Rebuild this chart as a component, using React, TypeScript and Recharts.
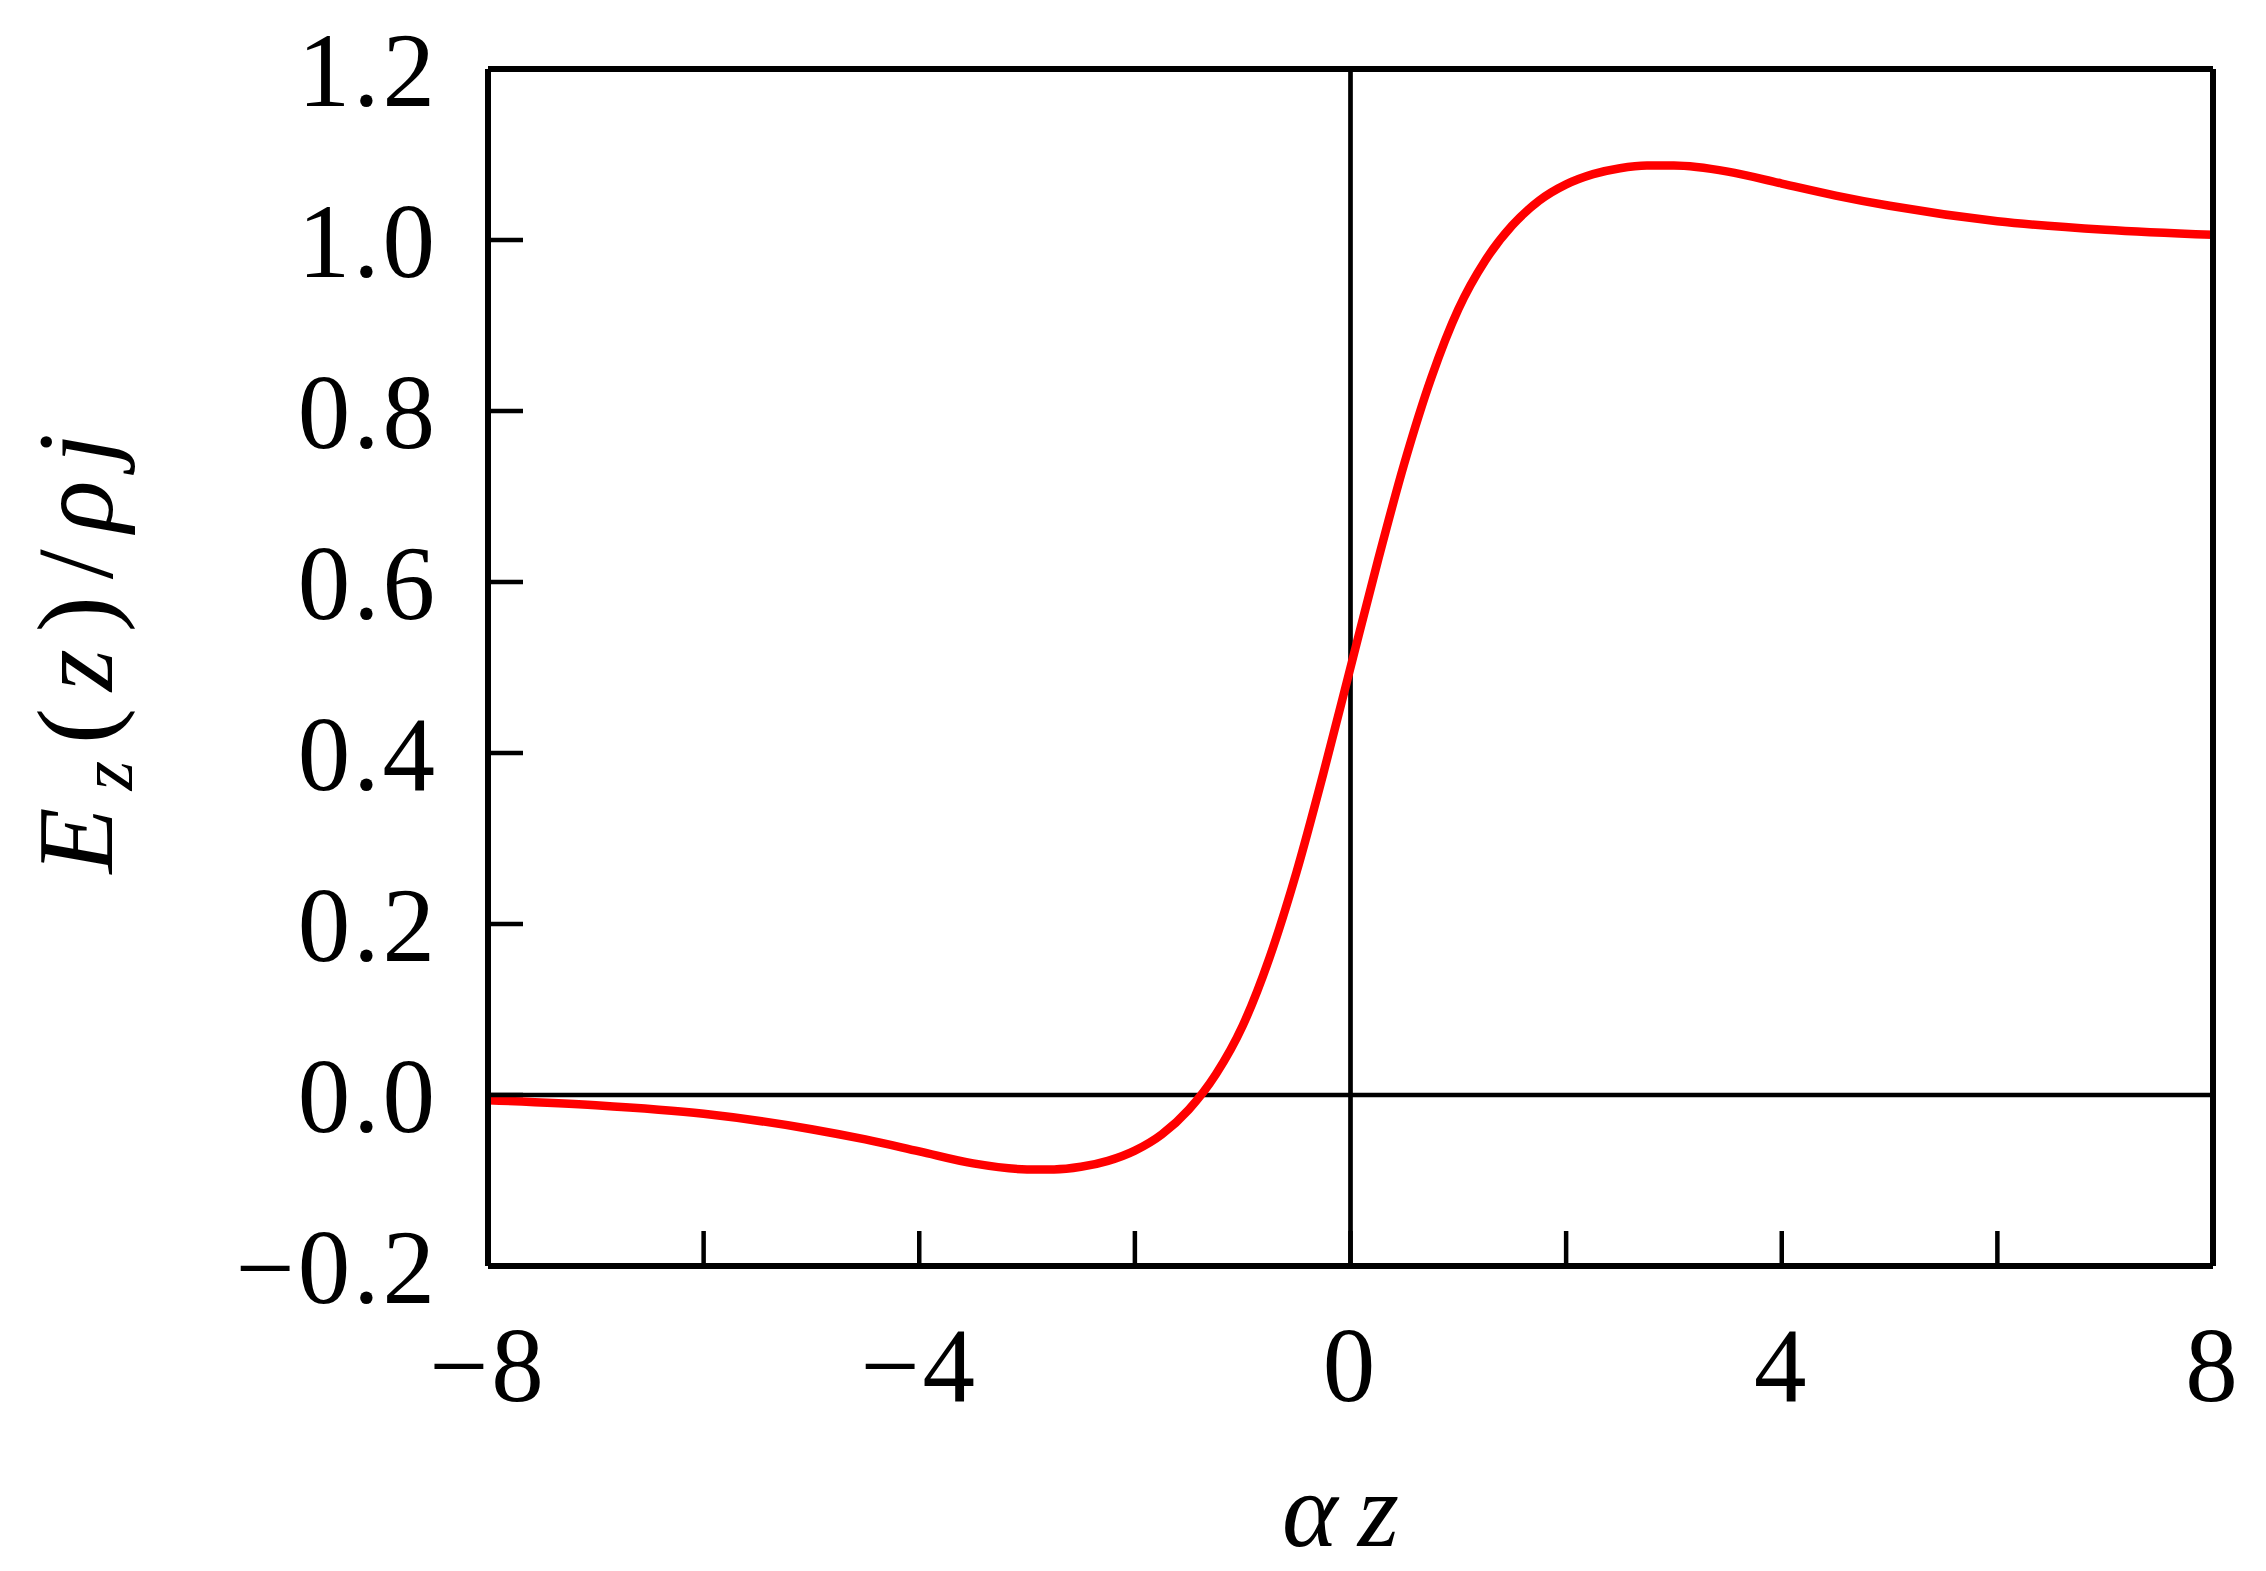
import React from 'react'
import {
  LineChart,
  Line,
  XAxis,
  YAxis,
  ReferenceLine,
  Label,
} from 'recharts'

// alpha*z positions and E_z(z)/rho j values
const zValues = [
  -8, -7, -6, -5, -4.5, -4, -3.5, -3, -2.75, -2.5, -2.25, -2, -1.75, -1.5, -1.25, -1,
  -0.75, -0.5, -0.25, 0, 0.25, 0.5, 0.75, 1, 1.25, 1.5, 1.75, 2, 2.25, 2.5, 2.75, 3,
  3.5, 4, 4.5, 5, 6, 7, 8,
]
const fieldValues = [
  -0.006, -0.012, -0.022, -0.04, -0.052, -0.066, -0.08, -0.087, -0.087, -0.084,
  -0.077, -0.065, -0.046, -0.017, 0.024, 0.081, 0.161, 0.261, 0.377, 0.5, 0.623, 0.739,
  0.839, 0.919, 0.976, 1.017, 1.046, 1.065, 1.077, 1.084, 1.087, 1.087, 1.08, 1.066,
  1.052, 1.04, 1.022, 1.012, 1.006,
]

const xTicks = [-8, -6, -4, -2, 0, 2, 4, 6, 8]
const xLabelled = [-8, -4, 0, 4, 8]
const yTicks = [-0.2, 0, 0.2, 0.4, 0.6, 0.8, 1.0, 1.2]

const data = zValues.map((z, i) => ({ z, e: fieldValues[i] }))

const FONT = "'Liberation Serif', 'DejaVu Serif', serif"
const INK = '#000000'
const CURVE = '#ff0000'

const minus = (s: string) => s.replace('-', '\u2212')
const fmtX = (v: number) => (xLabelled.includes(v) ? minus(String(v)) : '')
const fmtY = (v: number) => minus(v.toFixed(1))

const tickStyle = { fill: INK, fontSize: 105, fontFamily: FONT, letterSpacing: 3 }
const axisLineStyle = { stroke: INK, strokeWidth: 6 }
const tickLineStyle = { stroke: INK, strokeWidth: 4.5 }

function XTitle({ viewBox }: any) {
  const cx = viewBox.x + viewBox.width / 2
  return (
    <text
      x={cx}
      y={viewBox.y + 280}
      textAnchor="middle"
      fontFamily={FONT}
      fontStyle="italic"
      fontSize={106}
      letterSpacing={20}
      fill={INK}
    >
      {'\u03b1z'}
    </text>
  )
}

function YTitle({ viewBox }: any) {
  const x = viewBox.x + 112
  const y = viewBox.y + viewBox.height / 2 - 14
  return (
    <text
      x={x}
      y={y}
      transform={`rotate(-90, ${x}, ${y})`}
      textAnchor="middle"
      fontFamily={FONT}
      fontSize={108}
      fill={INK}
      textLength={440}
      lengthAdjust="spacing"
    >
      <tspan fontStyle="italic">E</tspan>
      <tspan fontStyle="italic" fontSize={76} dy={20}>z</tspan>
      <tspan dy={-20}>(</tspan>
      <tspan fontStyle="italic">z</tspan>
      <tspan>)/</tspan>
      <tspan fontStyle="italic">{'\u03c1j'}</tspan>
    </text>
  )
}

export default function App() {
  return (
    <div style={{ width: 2266, height: 1571, background: '#fff' }}>
      <style>{'body{margin:0}'}</style>
      <LineChart width={2266} height={1571} data={data} margin={{ top: 0, right: 0, bottom: 0, left: 0 }}>
        <XAxis
          dataKey="z"
          type="number"
          domain={[-8, 8]}
          ticks={xTicks}
          interval={0}
          tickFormatter={fmtX}
          tickSize={-35}
          tickMargin={95}
          height={305}
          axisLine={axisLineStyle}
          tickLine={tickLineStyle}
          tick={tickStyle}
          allowDataOverflow
        >
          <Label content={XTitle} />
        </XAxis>
        <XAxis
          xAxisId="top"
          orientation="top"
          type="number"
          domain={[-8, 8]}
          ticks={xTicks}
          interval={0}
          tickSize={-35}
          height={69}
          axisLine={axisLineStyle}
          tickLine={tickLineStyle}
          tick={false}
          allowDataOverflow
        />
        <YAxis
          type="number"
          domain={[-0.2, 1.2]}
          ticks={yTicks}
          interval={0}
          tickFormatter={fmtY}
          tickSize={-35}
          tickMargin={85}
          width={488}
          axisLine={axisLineStyle}
          tickLine={tickLineStyle}
          tick={tickStyle}
          allowDataOverflow
        >
          <Label content={YTitle} />
        </YAxis>
        <YAxis
          yAxisId="right"
          orientation="right"
          type="number"
          domain={[-0.2, 1.2]}
          ticks={yTicks}
          interval={0}
          tickSize={-35}
          width={53}
          axisLine={axisLineStyle}
          tickLine={tickLineStyle}
          tick={false}
          allowDataOverflow
        />
        <ReferenceLine y={0} stroke={INK} strokeWidth={4.7} />
        <ReferenceLine x={0} stroke={INK} strokeWidth={4.7} />
        <Line
          type="monotone"
          dataKey="e"
          stroke={CURVE}
          strokeWidth={8.5}
          dot={false}
          activeDot={false}
          isAnimationActive={false}
        />
      </LineChart>
    </div>
  )
}
